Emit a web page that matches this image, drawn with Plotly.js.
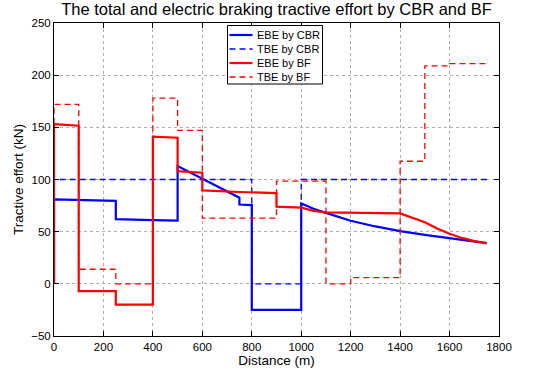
<!DOCTYPE html>
<html>
<head>
<meta charset="utf-8">
<script src="https://cdn.plot.ly/plotly-3.0.1.min.js"></script>
<style>html,body{margin:0;padding:0;background:#fff;}#chart{width:537px;height:372px;}</style>
</head>
<body>
<div id="chart"></div>
<script>
// EBE by CBR (electric braking effort, CBR)
const ebeCbrX = [0,0,250,250,400,500,500,550,600,650,700,750,750,800,800,1000,1000,1050,1100,1150,1200,1300,1400,1500,1600,1700,1750];
const ebeCbrY = [0,81,79.5,62,61,60.5,113,107,100.5,95,89,82.5,76,75.5,-25,-25,77,72,68,64,60.5,55,50.5,47,43.6,40.5,39];
// TBE by CBR
const tbeCbrX = [0,0,800,800,1000,1000,1750];
const tbeCbrY = [0,100,100,0,0,100,100];
// EBE by BF
const ebeBfX = [0,0,100,100,250,250,400,400,500,500,600,600,750,900,900,1000,1050,1100,1400,1450,1500,1550,1600,1650,1700,1750];
const ebeBfY = [0,153,151.5,-7,-7,-20,-20,141,140,108,106.5,89.5,88,87,74,73,70,68.5,67.5,63,59,53,48,44,41,39];
// TBE by BF
const tbeBfX = [0,0,100,100,250,250,400,400,500,500,600,600,900,900,1100,1100,1200,1200,1400,1400,1500,1500,1600,1600,1750];
const tbeBfY = [0,172,172,14,14,0,0,178,178,147,147,63,63,98.5,98.5,0,0,6,6,117.5,117.5,209,209,211,211];

const seriesNames = ['EBE by CBR','TBE by CBR','EBE by BF','TBE by BF'];
const xTicks = [0,200,400,600,800,1000,1200,1400,1600,1800];
const yTicks = [-50,0,50,100,150,200,250];

const FONT = 'Liberation Sans, Arial, Helvetica, sans-serif';
const BLUE = '#0000ff', RED = '#ff0000';
const SOLID_W = 2.2, DASH_W = 1.3, DASH = '6px,4px';

const styles = [
  {color: BLUE, width: SOLID_W},
  {color: BLUE, width: DASH_W, dash: DASH},
  {color: RED, width: SOLID_W},
  {color: RED, width: DASH_W, dash: DASH}
];
const xs = [ebeCbrX, tbeCbrX, ebeBfX, tbeBfX];
const ys = [ebeCbrY, tbeCbrY, ebeBfY, tbeBfY];

const traces = seriesNames.map((n, i) => ({
  x: xs[i], y: ys[i], name: n, mode: 'lines', line: styles[i], showlegend: false
}));

// plot area in pixels
const W = 537, H = 372, ML = 54, MR = 38, MT = 23, MB = 36;
const PW = W - ML - MR, PH = H - MT - MB;
const px = v => (v - ML) / PW;
const py = v => (H - MB - v) / PH;

// custom legend (MATLAB-like compact box)
const LG = {left: 227.5, right: 322.5, top: 25.5, bottom: 84, rows: [35, 49, 63, 77], l0: 229.5, l1: 252.5, tx: 255};
const shapes = [{
  type: 'rect', xref: 'paper', yref: 'paper',
  x0: px(LG.left), x1: px(LG.right), y0: py(LG.bottom), y1: py(LG.top),
  line: {color: '#000', width: 1}, fillcolor: '#fff', layer: 'above'
}];
const annotations = [];
seriesNames.forEach((n, i) => {
  shapes.push({type: 'line', xref: 'paper', yref: 'paper',
    x0: px(LG.l0), x1: px(LG.l1), y0: py(LG.rows[i]), y1: py(LG.rows[i]),
    line: {color: styles[i].color, width: styles[i].width, dash: styles[i].dash || 'solid'}, layer: 'above'});
  annotations.push({xref: 'paper', yref: 'paper', x: px(LG.tx), y: py(LG.rows[i]),
    xanchor: 'left', yanchor: 'middle', showarrow: false, text: n,
    font: {family: FONT, size: 11, color: '#000'}});
});

const axisCommon = {
  showline: true, linecolor: '#000', linewidth: 1, mirror: 'ticks',
  ticks: 'inside', ticklen: 5, tickcolor: '#000', tickwidth: 1,
  showgrid: true, gridcolor: '#b0b0b0', griddash: 'dot', gridwidth: 1,
  zeroline: false, tickfont: {family: FONT, size: 11.5, color: '#000'}
};

const layout = {
  width: W, height: H,
  margin: {l: ML, r: MR, t: MT, b: MB},
  paper_bgcolor: '#fff', plot_bgcolor: '#fff',
  font: {family: FONT, color: '#000'},
  title: {text: 'The total and electric braking tractive effort by CBR and BF',
          font: {family: FONT, size: 16.5, color: '#000'},
          x: 0.5, xref: 'paper', xanchor: 'center', y: 0.974, yref: 'container', yanchor: 'middle'},
  xaxis: Object.assign({}, axisCommon, {
    range: [0, 1800], tickvals: xTicks, ticktext: xTicks.map(String),
    title: {text: 'Distance (m)', font: {family: FONT, size: 13.5, color: '#000'}, standoff: 0}
  }),
  yaxis: Object.assign({}, axisCommon, {
    range: [-50, 250], tickvals: yTicks, ticktext: yTicks.map(v => v < 0 ? '\u2212' + Math.abs(v) : String(v)),
    title: {text: 'Tractive effort (kN)', font: {family: FONT, size: 13.5, color: '#000'}, standoff: 4}
  }),
  showlegend: false,
  shapes: shapes,
  annotations: annotations
};

Plotly.newPlot('chart', traces, layout, {displayModeBar: false, staticPlot: true});
</script>
</body>
</html>
